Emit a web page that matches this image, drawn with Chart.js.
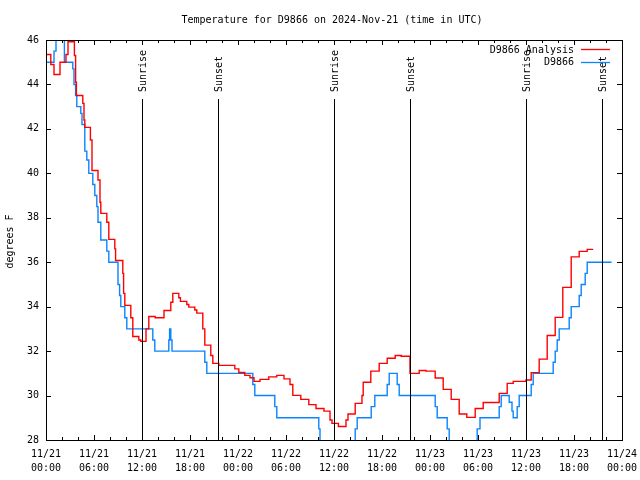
<!DOCTYPE html>
<html>
<head>
<meta charset="utf-8">
<script src="https://cdn.jsdelivr.net/npm/chart.js@4"></script>
<style>
  html, body { margin: 0; padding: 0; background: #fff; }
  #wrap { width: 640px; height: 480px; }
</style>
</head>
<body>
<div id="wrap"><canvas id="c" width="640" height="480"></canvas></div>
<script>
// ---- data (hours since 2024-11-21 00:00 UTC, degrees F) ----
const redHours = [0,0.6,1.0,1.75,2.5,2.75,3.55,3.7,3.8,4.6,4.75,4.85,5.55,5.75,6.5,6.75,6.85,7.6,7.85,8.6,8.7,9.6,9.7,9.85,10.6,10.85,11.6,11.85,12.5,12.85,13.65,14.75,15.6,15.85,16.6,16.8,17.6,17.85,18.6,18.85,19.6,19.85,20.6,20.85,21.6,23.6,24.1,24.85,25.5,26,26.75,27.85,28.85,29.75,30.5,30.85,31.85,32.85,33.75,34.75,35.5,35.75,36.55,37.5,37.75,38.65,39.5,39.65,40.6,41.65,42.65,43.65,44.4,45.5,46.65,47.5,48.65,49.65,50.65,51.65,52.6,53.65,54.65,56.65,57.65,58.4,60,60.65,61.65,62.65,63.65,64.6,65.65,66.65,67.65,68.4];
const redTemps = [45.35,44.9,44.45,45.0,45.35,45.92,45.3,44.1,43.5,43.15,42.4,42.07,41.5,40.13,39.7,38.7,38.2,37.8,37.03,36.6,36.08,35.5,34.6,34.06,33.5,32.66,32.5,32.44,33.0,33.56,33.5,33.83,34.2,34.6,34.4,34.24,34.1,33.98,33.85,33.71,33.0,32.27,31.8,31.45,31.36,31.2,31.04,30.91,30.8,30.64,30.73,30.84,30.91,30.75,30.5,30.01,29.83,29.59,29.42,29.3,28.9,28.75,28.61,28.9,29.17,29.65,30.0,30.6,31.1,31.45,31.68,31.8,31.77,31.0,31.13,31.1,30.79,30.28,29.83,29.17,29.02,29.42,29.69,30.1,30.55,30.64,30.7,31.03,31.64,32.7,33.52,34.87,36.24,36.49,36.58,36.58];

const blueHours = [0,1.0,1.25,2.0,2.3,3.35,3.5,3.7,3.85,4.35,4.5,4.85,5.1,5.35,5.85,6.1,6.35,6.5,6.85,7.6,7.85,9.0,9.2,9.35,9.85,10.1,13.35,13.6,15.35,15.45,15.6,15.75,19.85,20.1,25.85,26.1,28.6,28.85,34.1,34.25,38.65,38.9,40.65,41.1,42.65,42.9,43.9,44.15,48.65,48.9,50.15,50.4,53.9,54.25,56.65,56.9,57.9,58.25,58.4,58.9,59.15,60.65,60.9,63.4,63.65,63.9,64.15,65.4,65.65,66.65,66.9,67.4,67.65,70.7];
const blueTemps = [45.0,45.5,46.6,46.3,45.0,44.7,44.0,43.5,43.0,42.7,42.2,41.0,40.6,40.0,39.5,39.0,38.5,37.8,37.0,36.5,36.0,35.0,34.5,34.0,33.5,33.0,32.5,32.0,32.5,33.0,32.5,32.0,31.5,31.0,30.5,30.0,29.5,29.0,28.5,27.5,28.5,29.0,29.5,30.0,30.5,31.0,30.5,30.0,29.5,29.0,28.5,27.5,28.5,29.0,29.5,30.0,29.7,29.3,29.0,29.5,30.0,30.5,31.0,31.5,32.0,32.5,33.0,33.5,34.0,34.5,35.0,35.5,36.0,36.0];

const sunHours  = [12.04, 21.54, 36.04, 45.54, 60.04, 69.46];
const sunLabels = ['Sunrise','Sunset','Sunrise','Sunset','Sunrise','Sunset'];

const tickDates = ['11/21','11/21','11/21','11/21','11/22','11/22','11/22','11/22','11/23','11/23','11/23','11/23','11/24'];
const tickTimes = ['00:00','06:00','12:00','18:00','00:00','06:00','12:00','18:00','00:00','06:00','12:00','18:00','00:00'];

const seriesNames = ['D9866 Analysis','D9866'];
const seriesColors = ['#ff0000','#0a84ff'];
const titleText = 'Temperature for D9866 on 2024-Nov-21 (time in UTC)';
const yTitle = 'degrees F';

const FONT = 'DejaVu Sans Mono';

function pts(xs, ys) { return xs.map((x, i) => ({ x: x, y: ys[i] })); }

const decor = {
  id: 'decor',
  afterDraw(chart) {
    const ctx = chart.ctx;
    const a = chart.chartArea;
    const xs = chart.scales.x, ys = chart.scales.y;
    ctx.save();
    ctx.strokeStyle = '#000';
    ctx.lineWidth = 1;
    // sunrise / sunset lines
    ctx.fillStyle = '#000';
    ctx.font = '10px "' + FONT + '"';
    sunHours.forEach((h, i) => {
      const x = Math.round(xs.getPixelForValue(h)) + 0.5;
      ctx.beginPath();
      ctx.moveTo(x, a.top + 59);
      ctx.lineTo(x, a.bottom);
      ctx.stroke();
      ctx.save();
      ctx.translate(x + 1, a.top + 52);
      ctx.rotate(-Math.PI / 2);
      ctx.textAlign = 'left';
      ctx.textBaseline = 'middle';
      ctx.fillText(sunLabels[i], 0, 0);
      ctx.restore();
    });
    // frame
    ctx.strokeRect(Math.round(a.left) + 0.5, Math.round(a.top) + 0.5,
                   Math.round(a.right - a.left), Math.round(a.bottom - a.top));
    // x ticks
    for (let h = 0; h <= 72; h += 2) {
      const x = Math.round(xs.getPixelForValue(h)) + 0.5;
      const len = (h % 6 === 0) ? 5 : 3;
      ctx.beginPath();
      ctx.moveTo(x, a.bottom); ctx.lineTo(x, a.bottom - len);
      ctx.moveTo(x, a.top); ctx.lineTo(x, a.top + len);
      ctx.stroke();
    }
    // y ticks
    for (let v = 28; v <= 46; v += 2) {
      const y = Math.round(ys.getPixelForValue(v)) + 0.5;
      ctx.beginPath();
      ctx.moveTo(a.left, y); ctx.lineTo(a.left + 5, y);
      ctx.moveTo(a.right, y); ctx.lineTo(a.right - 5, y);
      ctx.stroke();
    }
    // title
    ctx.font = '10px "' + FONT + '"';
    ctx.textAlign = 'center';
    ctx.textBaseline = 'middle';
    ctx.fillText(titleText, 332, 20);
    // y title
    ctx.save();
    ctx.translate(10.5, 241.5);
    ctx.rotate(-Math.PI / 2);
    ctx.textAlign = 'center';
    ctx.textBaseline = 'middle';
    ctx.font = '10px "' + FONT + '"';
    ctx.fillText(yTitle, 0, 0);
    ctx.restore();
    // legend
    ctx.font = '10px "' + FONT + '"';
    ctx.textAlign = 'right';
    ctx.textBaseline = 'middle';
    seriesNames.forEach((n, i) => {
      const y = 50 + i * 12.5;
      ctx.fillStyle = '#000';
      ctx.fillText(n, 574, y);
      ctx.strokeStyle = seriesColors[i];
      ctx.lineWidth = 1.3;
      ctx.beginPath();
      ctx.moveTo(581, Math.round(y) - 0.5);
      ctx.lineTo(610, Math.round(y) - 0.5);
      ctx.stroke();
    });
    ctx.restore();
  }
};

new Chart(document.getElementById('c'), {
  type: 'line',
  data: {
    datasets: [
      { label: seriesNames[0], data: pts(redHours, redTemps), borderColor: seriesColors[0],
        borderWidth: 1.4, pointRadius: 0, stepped: true, fill: false },
      { label: seriesNames[1], data: pts(blueHours, blueTemps), borderColor: seriesColors[1],
        borderWidth: 1.4, pointRadius: 0, stepped: true, fill: false }
    ]
  },
  options: {
    responsive: false,
    animation: false,
    devicePixelRatio: 1,
    layout: { padding: { left: 0, right: 18, top: 40, bottom: 0 } },
    plugins: { legend: { display: false }, tooltip: { enabled: false }, title: { display: false } },
    scales: {
      x: {
        type: 'linear', min: 0, max: 72,
        grid: { display: false, drawTicks: false },
        border: { display: false },
        ticks: {
          stepSize: 6, autoSkip: false, maxRotation: 0, minRotation: 0, padding: 7,
          color: '#000', font: { family: FONT, size: 10, lineHeight: 1.4 },
          callback: (v) => { const i = Math.round(v / 6); return [tickDates[i], tickTimes[i]]; }
        },
        afterFit: (s) => { s.height = 40; s.paddingLeft = 0; s.paddingRight = 0; }
      },
      y: {
        min: 28, max: 46,
        grid: { display: false, drawTicks: false },
        border: { display: false },
        ticks: { stepSize: 2, padding: 7, color: '#000', font: { family: FONT, size: 10 } },
        afterFit: (s) => { s.width = 46; s.paddingTop = 0; s.paddingBottom = 0; }
      }
    }
  },
  plugins: [decor]
});
</script>
</body>
</html>
